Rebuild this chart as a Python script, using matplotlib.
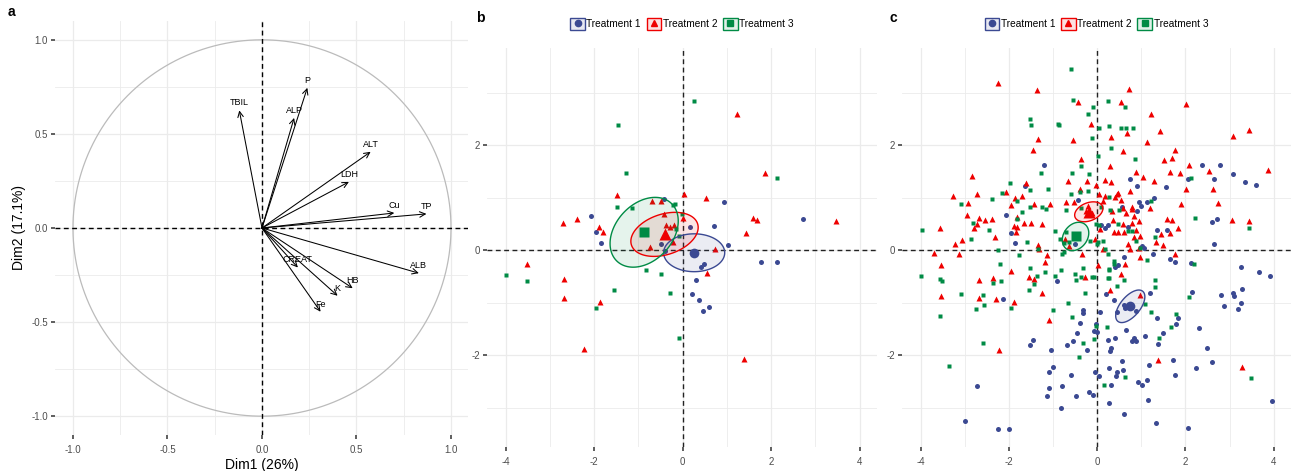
import numpy as np
import matplotlib
matplotlib.use("Agg")
import matplotlib.pyplot as plt
from matplotlib.lines import Line2D
from matplotlib.patches import Patch, Polygon
from matplotlib.legend_handler import HandlerTuple

plt.rcParams['font.family'] = ['Liberation Sans', 'DejaVu Sans']

# ---------------- data ----------------
# Panel a: variable loadings on the first two dimensions
var_names = ["TBIL", "P", "ALP", "ALT", "LDH", "Cu", "TP", "ALB", "HB", "K", "Fe", "CREAT"]
var_dim1 = [-0.12, 0.24, 0.17, 0.575, 0.46, 0.70, 0.87, 0.83, 0.48, 0.40, 0.31, 0.19]
var_dim2 = [0.625, 0.745, 0.585, 0.405, 0.245, 0.08, 0.075, -0.24, -0.32, -0.36, -0.445, -0.21]

groups = ["Treatment 1", "Treatment 2", "Treatment 3"]
group_colors = ["#3B4992", "#EE0000", "#008B45"]
group_markers = ["o", "^", "s"]

# Panel b: individuals
b_t1 = [(-0.42, 0.97), (0.93, 0.91), (-2.06, 0.65), (-1.96, 0.34), (-1.85, 0.14), (0.17, 0.44),
        (0.70, 0.46), (2.71, 0.59), (-0.50, 0.11), (1.02, 0.10), (-0.39, -0.02), (1.77, -0.22),
        (2.14, -0.23), (0.48, -0.27), (0.42, -0.32), (0.29, -0.57), (0.20, -0.83), (0.37, -0.95),
        (0.60, -1.09), (0.45, -1.16)]
b_t2 = [(1.22, 2.60), (1.87, 1.47), (-1.48, 1.05), (-0.69, 0.94), (-0.49, 0.94), (0.04, 1.07),
        (0.52, 1.00), (-0.42, 0.69), (0.01, 0.62), (-2.39, 0.60), (-2.71, 0.51), (-1.88, 0.45),
        (-1.81, 0.34), (-0.38, 0.47), (-0.29, 0.44), (-0.19, 0.47), (1.60, 0.61), (1.69, 0.58),
        (3.46, 0.56), (1.44, 0.32), (-0.21, 0.16), (-0.74, 0.06), (0.74, 0.03), (-3.51, -0.26),
        (0.56, -0.44), (-2.67, -0.55), (-2.68, -0.91), (-1.87, -0.98), (-2.22, -1.89), (1.38, -2.08)]
b_t3 = [(0.25, 2.84), (-1.47, 2.39), (-1.29, 1.47), (2.12, 1.37), (-1.49, 0.83), (-1.15, 0.81),
        (-0.21, 0.86), (-0.18, 0.87), (-0.02, 0.69), (-0.15, 0.40), (-0.09, 0.27), (-0.82, -0.38),
        (-0.50, -0.45), (-3.99, -0.48), (-3.51, -0.58), (-1.54, -0.75), (-0.28, -0.81), (-1.95, -1.10),
        (-0.08, -1.68)]
b_centroids = [(0.26, -0.05), (-0.41, 0.30), (-0.87, 0.34)]
# ellipse covariance terms (sxx, syy, sxy) for each group
b_ellipses = [(0.476, 0.130, 0.0), (0.578, 0.176, 0.10), (0.593, 0.442, 0.165)]

# Panel c: individuals
c_t1 = [(-1.20, 1.62), (2.37, 1.62), (2.78, 1.63), (3.08, 1.45), (0.75, 1.35), (2.64, 1.35),
        (2.06, 1.35), (-1.63, 1.23), (3.34, 1.29), (3.59, 1.25), (0.90, 1.23), (1.55, 1.20),
        (-0.43, 0.96), (1.28, 0.99), (0.94, 0.91), (1.14, 0.92), (0.99, 0.85), (0.57, 0.82),
        (0.90, 0.74), (-2.07, 0.66), (2.59, 0.53), (2.71, 0.59), (-1.96, 0.33), (-1.86, 0.13),
        (0.08, 0.48), (0.17, 0.42), (0.24, 0.47), (0.69, 0.45), (1.35, 0.38), (1.58, 0.39),
        (-0.51, 0.11), (1.02, 0.07), (1.05, 0.04), (2.65, 0.11), (0.60, -0.13), (1.27, -0.07),
        (0.48, -0.28), (0.40, -0.33), (1.66, -0.16), (1.77, -0.22), (2.13, -0.24), (-0.90, -0.59),
        (-2.13, -0.93), (0.20, -0.83), (0.38, -0.95), (1.20, -0.81), (2.14, -0.79), (2.80, -0.86),
        (3.07, -0.81), (3.11, -0.87), (3.27, -0.74), (3.26, -0.32), (3.67, -0.41), (3.92, -0.49),
        (3.25, -1.01), (2.88, -1.06), (3.18, -1.12), (0.60, -1.04), (0.62, -1.10), (0.88, -1.15),
        (0.45, -1.17), (-0.32, -1.14), (-0.32, -1.19), (0.07, -1.18), (-0.38, -1.39), (-0.02, -1.41),
        (-0.08, -1.54), (0.00, -1.55), (-0.45, -1.58), (-0.55, -1.74), (-0.69, -1.81), (-0.24, -1.90),
        (-1.04, -1.90), (-1.46, -1.71), (-1.51, -1.81), (1.36, -1.29), (1.83, -1.29), (1.79, -1.41),
        (0.65, -1.52), (0.25, -1.71), (0.41, -1.68), (0.78, -1.74), (0.83, -1.68), (0.87, -1.74),
        (1.09, -1.63), (1.48, -1.57), (1.37, -1.79), (2.31, -1.49), (2.49, -1.87), (0.32, -1.87),
        (0.29, -1.93), (0.57, -2.12), (1.72, -2.09), (2.60, -2.13), (1.18, -2.19), (2.23, -2.25),
        (0.27, -2.24), (0.44, -2.32), (0.59, -2.28), (0.05, -2.39), (-0.04, -2.33), (0.42, -2.40),
        (0.93, -2.52), (1.02, -2.56), (1.14, -2.48), (1.77, -2.37), (0.32, -2.56), (0.26, -2.91),
        (1.15, -2.86), (3.95, -2.88), (0.60, -3.13), (1.33, -3.29), (2.06, -3.38), (-1.00, -2.22),
        (-1.08, -2.32), (-0.59, -2.37), (-0.80, -2.59), (-1.09, -2.63), (-1.14, -2.77), (-0.48, -2.77),
        (-0.19, -2.71), (-0.10, -2.75), (-0.81, -3.00), (-2.72, -2.58), (-3.00, -3.26), (-2.25, -3.41),
        (-2.00, -3.41)]
c_t2 = [(-2.25, 3.19), (-1.36, 3.05), (0.73, 3.07), (-0.43, 2.83), (0.55, 2.83), (2.02, 2.78),
        (1.22, 2.60), (-0.15, 2.40), (0.68, 2.24), (1.42, 2.27), (3.43, 2.28), (3.08, 2.17),
        (-1.34, 2.11), (-0.54, 2.09), (0.31, 2.16), (1.13, 2.06), (-1.46, 1.90), (0.59, 1.88),
        (1.76, 1.90), (-0.36, 1.74), (1.51, 1.71), (1.69, 1.75), (0.30, 1.61), (2.07, 1.62),
        (3.86, 1.52), (-2.84, 1.42), (0.87, 1.49), (1.66, 1.48), (1.87, 1.47), (2.53, 1.50),
        (1.03, 1.39), (-0.66, 1.32), (-0.23, 1.31), (0.18, 1.33), (0.32, 1.29), (1.28, 1.31),
        (-1.62, 1.28), (-0.03, 1.24), (2.02, 1.17), (2.62, 1.16), (-0.38, 1.16), (-2.06, 1.11),
        (0.74, 1.13), (-3.27, 1.04), (-2.73, 1.06), (-1.70, 1.04), (-1.85, 1.00), (0.44, 1.06),
        (0.48, 1.08), (0.40, 1.01), (0.05, 1.06), (0.17, 1.04), (2.73, 0.90), (-0.70, 0.92),
        (-0.52, 0.92), (0.14, 0.94), (0.55, 0.95), (-2.93, 0.90), (-1.95, 0.86), (-1.42, 0.87),
        (-1.07, 0.88), (1.90, 0.87), (1.19, 0.81), (0.78, 0.82), (0.80, 0.79), (0.33, 0.74),
        (0.65, 0.71), (0.58, 0.80), (-0.20, 0.85), (-0.25, 0.75), (-0.12, 0.70), (-2.94, 0.66),
        (-2.68, 0.61), (-2.54, 0.57), (-2.39, 0.59), (-1.81, 0.63), (-2.73, 0.50), (-2.78, 0.42),
        (-3.57, 0.43), (-1.82, 0.44), (-1.65, 0.52), (-1.49, 0.52), (-1.26, 0.49), (-1.88, 0.46),
        (-1.83, 0.35), (-2.32, 0.25), (-3.05, 0.19), (-3.22, 0.11), (-3.70, -0.06), (-3.13, -0.07),
        (-1.33, 0.09), (-1.31, 0.03), (-1.14, -0.10), (-1.19, -0.22), (-0.72, 0.21), (-0.63, 0.08),
        (-0.34, -0.08), (-0.05, 0.22), (0.14, 0.03), (0.06, 0.41), (0.35, 0.57), (0.48, 0.34),
        (0.61, 0.34), (0.38, 0.35), (0.87, 0.39), (0.84, 0.65), (0.79, 0.52), (0.94, 0.55),
        (0.58, 0.50), (0.83, 0.25), (0.97, 0.27), (0.70, 0.11), (0.74, 0.03), (0.94, 0.04),
        (1.34, 0.15), (1.49, 0.09), (1.45, 0.31), (1.66, 0.33), (1.82, 0.43), (1.59, 0.60),
        (1.69, 0.57), (3.05, 0.57), (3.45, 0.56), (1.77, -0.08), (0.98, -0.13), (0.01, -0.29),
        (0.64, -0.26), (0.55, -0.45), (0.29, -0.76), (0.97, -0.85), (-3.53, -0.28), (-3.54, -0.88),
        (-2.68, -0.57), (-2.68, -0.92), (-2.37, -0.54), (-2.30, -0.94), (-1.96, -0.40), (-1.89, -0.99),
        (-1.55, -0.52), (-1.42, -0.55), (-1.26, -0.81), (-0.27, -0.51), (-1.10, -1.34), (-2.23, -1.91),
        (1.38, -2.09), (3.28, -2.22)]
c_t3 = [(-0.59, 3.45), (-0.55, 2.86), (0.25, 2.84), (-0.09, 2.72), (0.63, 2.72), (-0.21, 2.60),
        (-1.52, 2.50), (-1.49, 2.39), (-0.88, 2.40), (-0.86, 2.38), (0.05, 2.33), (0.26, 2.37),
        (0.53, 2.32), (0.66, 2.32), (0.81, 2.33), (-0.11, 2.14), (0.32, 1.94), (0.02, 1.80),
        (0.86, 1.74), (-0.36, 1.60), (-1.28, 1.47), (-0.57, 1.46), (-0.19, 1.45), (2.13, 1.37),
        (-1.97, 1.27), (-1.12, 1.16), (-0.20, 1.13), (-1.52, 1.14), (-0.38, 1.11), (-2.16, 1.08),
        (-0.60, 1.06), (0.26, 1.01), (1.22, 0.93), (-2.38, 0.97), (-1.81, 0.93), (-3.08, 0.87),
        (-1.25, 0.83), (-1.15, 0.78), (-1.52, 0.82), (-0.70, 0.76), (-0.37, 0.80), (0.08, 0.82),
        (0.28, 0.77), (0.50, 0.77), (-1.70, 0.72), (-1.82, 0.59), (-2.82, 0.52), (-2.44, 0.38),
        (-3.97, 0.39), (-2.86, 0.21), (-2.25, 0.00), (-1.59, 0.15), (-1.34, 0.03), (-1.78, -0.10),
        (-0.95, 0.36), (-0.84, 0.21), (-0.71, 0.34), (-0.74, 0.13), (-0.64, 0.16), (-0.75, -0.04),
        (-0.79, -0.07), (-0.17, 0.17), (0.03, 0.15), (0.14, 0.18), (0.05, 0.48), (0.47, 0.50),
        (0.69, 0.36), (0.78, 0.36), (0.87, 0.18), (1.30, 0.25), (0.97, 0.05), (0.17, 0.03),
        (0.25, -0.08), (2.22, 0.61), (3.44, 0.43), (-0.02, 0.49), (0.00, 0.12), (-4.00, -0.49),
        (-3.56, -0.55), (-3.52, -0.58), (-3.09, -0.83), (-2.37, -0.62), (-2.19, -0.27), (-2.18, -0.59),
        (-2.58, -0.85), (-2.57, -1.05), (-2.74, -1.12), (-1.96, -1.11), (-1.55, -0.76), (-1.52, -0.34),
        (-1.36, -0.50), (-1.43, -0.64), (-1.18, -0.42), (-0.96, -0.49), (-0.82, -0.38), (-0.66, -1.01),
        (-0.51, -0.46), (-0.47, -0.57), (-0.37, -0.52), (-0.32, -0.34), (-0.28, -0.81), (-0.11, -0.51),
        (-0.08, -0.52), (0.25, -0.54), (0.26, -0.36), (0.38, -0.20), (0.39, -0.26), (0.27, -0.37),
        (0.26, -0.53), (0.61, -0.56), (0.44, -0.69), (1.13, -0.18), (1.30, -0.57), (1.31, -0.71),
        (2.19, -0.27), (2.08, -0.90), (1.09, -1.02), (1.21, -1.17), (1.79, -1.22), (1.68, -1.46),
        (0.22, -1.47), (1.40, -1.67), (-3.57, -1.25), (-2.59, -1.77), (-3.35, -2.21), (-0.57, -1.28),
        (-0.31, -1.76), (-0.08, -1.69), (-0.41, -2.04), (-0.02, -1.45), (0.62, -2.42), (0.16, -2.56),
        (3.48, -2.44), (-1.01, -1.14)]
c_centroids = [(0.75, -1.07), (-0.19, 0.73), (-0.49, 0.26)]
c_ellipses = [(0.109, 0.096, 0.06), (0.102, 0.036, 0.02), (0.090, 0.073, 0.02)]

# ---------------- layout ----------------
W, H = 1299, 471
fig = plt.figure(figsize=(W / 100, H / 100), dpi=100)


def px_axes(l, t, r, b):
    return fig.add_axes([l / W, 1 - b / H, (r - l) / W, (b - t) / H])


GRID = "#EBEBEB"
TICKC = "#4D4D4D"
DASH = (0, (3.5, 2.5))


def style_axes(ax):
    for s in ax.spines.values():
        s.set_visible(False)
    ax.grid(True, which="major", color=GRID, lw=0.9, zorder=0)
    ax.grid(True, which="minor", color=GRID, lw=0.6, zorder=0)
    ax.tick_params(which="major", length=3, width=1.1, color="#333333",
                   labelsize=7, labelcolor=TICKC, pad=2)
    ax.tick_params(axis="x", which="major", pad=4)
    ax.tick_params(which="minor", length=0)
    ax.set_axisbelow(True)


def fmt(v, nd):
    s = f"{abs(v):.{nd}f}"
    return ("-" + s) if v < 0 else s


# ---------------- panel a ----------------
ax = px_axes(55, 21, 468, 435)
style_axes(ax)
ax.set_xlim(-1.095, 1.09)
ax.set_ylim(-1.10, 1.10)
major = [-1, -0.5, 0, 0.5, 1]
ax.set_xticks(major)
ax.set_yticks(major)
ax.set_xticklabels([fmt(v, 1) for v in major])
ax.set_yticklabels([fmt(v, 1) for v in major])
ax.set_xticks([-0.75, -0.25, 0.25, 0.75], minor=True)
ax.set_yticks([-0.75, -0.25, 0.25, 0.75], minor=True)
t = np.linspace(0, 2 * np.pi, 400)
ax.plot(np.cos(t), np.sin(t), color="#BBBBBB", lw=0.9, zorder=2)
ax.axhline(0, color="black", lw=1.0, ls=DASH, zorder=3)
ax.axvline(0, color="black", lw=1.0, ls=DASH, zorder=3)
for name, x, y in zip(var_names, var_dim1, var_dim2):
    ax.annotate("", xy=(x, y), xytext=(0, 0),
                arrowprops=dict(arrowstyle="->,head_length=0.45,head_width=0.22",
                                color="black", lw=0.75, shrinkA=0, shrinkB=0,
                                mutation_scale=9), zorder=4)
    ax.text(x, y + 0.04, name, ha="center", va="center", fontsize=6.5, zorder=5)
ax.set_xlabel("Dim1 (26%)", fontsize=10, labelpad=2)
ax.set_ylabel("Dim2 (17.1%)", fontsize=10, labelpad=4)
fig.text(8 / W, 1 - 12 / H, "a", fontweight="bold", fontsize=10, va="center")


# ---------------- panels b and c ----------------
def ellipse_path(center, cov, n=200):
    sxx, syy, sxy = cov
    L = np.linalg.cholesky(np.array([[sxx, sxy], [sxy, syy]]))
    tt = np.linspace(0, 2 * np.pi, n)
    pts = L @ np.vstack([np.cos(tt), np.sin(tt)])
    return np.column_stack([pts[0] + center[0], pts[1] + center[1]])


def scatter_panel(ax, sets, centroids, ellipses):
    style_axes(ax)
    ax.set_xlim(-4.42, 4.39)
    ax.set_ylim(-3.75, 3.85)
    ax.set_xticks([-4, -2, 0, 2, 4])
    ax.set_xticklabels(["-4", "-2", "0", "2", "4"])
    ax.set_yticks([-2, 0, 2])
    ax.set_yticklabels(["-2", "0", "2"])
    ax.set_xticks([-3, -1, 1, 3], minor=True)
    ax.set_yticks([-3, -1, 1, 3], minor=True)
    ax.axhline(0, color="#222222", lw=1.0, ls=DASH, zorder=2)
    ax.axvline(0, color="#222222", lw=1.0, ls=DASH, zorder=2)
    sizes = {"o": 3.6, "^": 4.4, "s": 3.4}
    big = {"o": 7, "^": 9, "s": 7}
    for pts, col, mk in zip(sets, group_colors, group_markers):
        xs = [p[0] for p in pts]
        ys = [p[1] for p in pts]
        ax.plot(xs, ys, ls="", marker=mk, ms=sizes[mk], color=col, mec="none", zorder=3)
    for cen, cov, col in zip(centroids, ellipses, group_colors):
        poly = ellipse_path(cen, cov)
        ax.add_patch(Polygon(poly, closed=True, facecolor=col, alpha=0.1,
                             edgecolor="none", zorder=4))
        ax.add_patch(Polygon(poly, closed=True, facecolor="none", edgecolor=col,
                             lw=1.0, zorder=5))
    for cen, col, mk in zip(centroids, group_colors, group_markers):
        ax.plot([cen[0]], [cen[1]], ls="", marker=mk, ms=big[mk], color=col,
                mec="none", zorder=6)
    handles = []
    for col, mk in zip(group_colors, group_markers):
        box = Patch(facecolor=matplotlib.colors.to_rgba(col, 0.12), edgecolor=col, lw=1.0)
        m = Line2D([], [], ls="", marker=mk, color=col, ms=5 if mk == "^" else 4.5)
        handles.append((box, m))
    ax.legend(handles, groups, handler_map={tuple: HandlerTuple(ndivide=1, pad=0)},
              loc="center", bbox_to_anchor=(0.5, 1 + 24 / 399), ncol=3, frameon=False,
              fontsize=7.3, handlelength=1.45, handleheight=1.45, handletextpad=0.15,
              columnspacing=0.55, borderaxespad=0, borderpad=0)


axb = px_axes(487, 48, 877, 447)
scatter_panel(axb, [b_t1, b_t2, b_t3], b_centroids, b_ellipses)
fig.text(476 / W, 1 - 18 / H, "b", fontweight="bold", fontsize=10, va="center")

axc = px_axes(902, 48, 1291, 447)
scatter_panel(axc, [c_t1, c_t2, c_t3], c_centroids, c_ellipses)
fig.text(890 / W, 1 - 18 / H, "c", fontweight="bold", fontsize=10, va="center")

fig.savefig("out.png", dpi=100, facecolor="white")
